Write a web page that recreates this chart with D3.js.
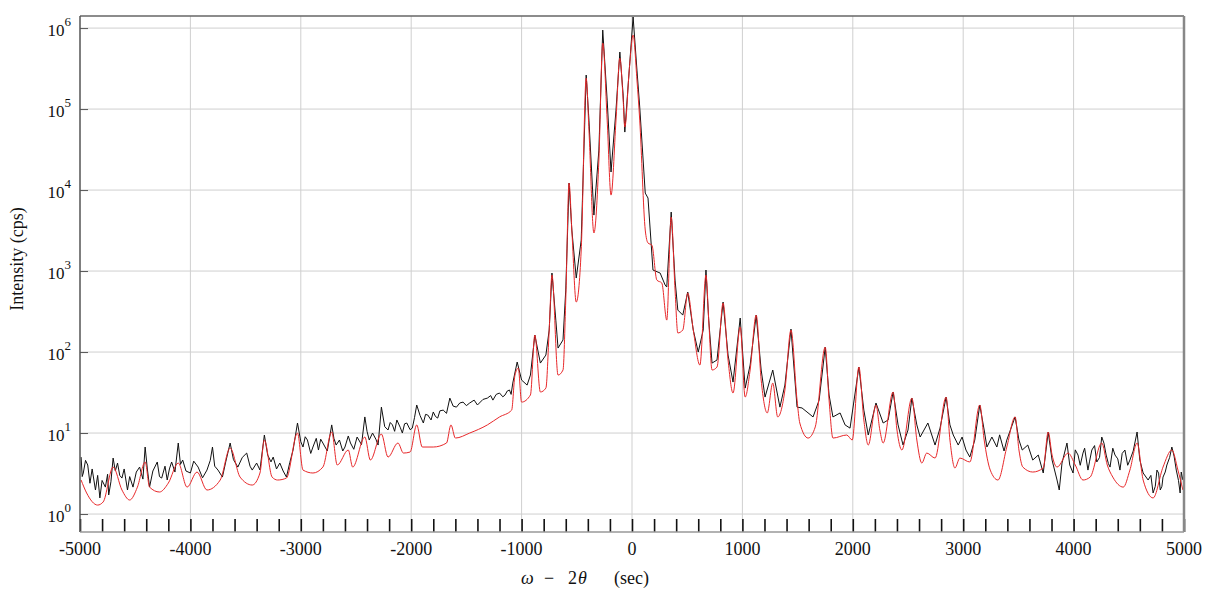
<!DOCTYPE html>
<html>
<head>
<meta charset="utf-8">
<script src="https://cdn.jsdelivr.net/npm/d3@7"></script>
<style>
  body { margin: 0; background: #fff; }
  svg text { font-family: "Liberation Serif", "Times New Roman", serif; fill: #111; }
</style>
</head>
<body>
<div class="main"></div>
<script>
//data (omega-2theta in sec, intensity in cps)
//simulated curve (red)
const simAngle = [
  -4990,-4940,-4840,-4790,-4700,-4620,-4550,-4480,-4410,-4370,
  -4280,-4200,-4110,-4030,-3940,-3850,-3730,-3640,-3550,-3440,
  -3370,-3330,-3260,-3210,-3130,-3030,-2980,-2890,-2800,-2720,
  -2670,-2570,-2530,-2420,-2370,-2270,-2210,-2120,-2070,-2010,
  -1950,-1900,-1800,-1680,-1640,-1600,-1470,-1310,-1200,-1090,
  -1060,-1030,-1000,-920,-880,-830,-780,-750,-725,-670,
  -625,-600,-570,-545,-505,-460,-415,-390,-345,-300,
  -265,-225,-190,-145,-110,-80,-65,-25,10,45,
  70,120,145,180,225,270,315,355,390,415,
  460,505,555,615,670,695,725,770,825,870,
  915,980,1025,1070,1125,1170,1225,1275,1320,1385,
  1440,1495,1520,1595,1660,1750,1785,1820,1945,1995,
  2055,2100,2140,2210,2245,2275,2365,2400,2445,2535,
  2580,2625,2670,2745,2845,2880,2925,2970,3060,3150,
  3190,3245,3315,3395,3470,3505,3540,3630,3725,3770,
  3805,3850,3950,4015,4085,4150,4255,4305,4355,4450,
  4510,4575,4630,4720,4810,4890,4945,4990
];
const simCps = [
  2.63,1.82,1.29,1.41,3.80,1.98,1.49,2.15,4.39,2.15,
  1.87,2.41,4.26,2.15,3.30,1.98,2.63,6.53,2.86,2.28,
  3.21,8.20,2.86,2.63,2.78,10.0,3.49,3.21,3.80,10.3,
  4.03,6.17,3.80,8.93,4.64,9.72,5.05,7.53,5.66,5.83,
  12.6,6.72,6.72,7.53,12.6,8.67,10.0,12.6,15.8,19.2,
  52.0,63.4,24.1,29.5,162,32.1,35.9,187,893,52.0,
  60.0,439,12200,3210,414,1820,241000,55000,2950,23500,
  653000,73100,8670,73100,426000,129000,60000,303000,820000,228000,
  73100,3210,2220,2090,774,711,248,4640,583,172,
  187,535,187,69.1,893,248,60.0,65.3,403,79.7,
  31.2,204,27.8,60.0,286,45.1,17.7,41.4,15.8,34.0,
  187,25.5,13.3,8.67,11.9,115,25.5,8.67,9.45,8.20,
  65.3,14.5,7.11,22.2,10.9,7.53,32.1,10.9,6.17,27.0,
  8.20,4.26,5.66,4.91,27.8,8.20,3.70,4.91,4.39,22.2,
  8.20,3.49,2.63,6.72,15.8,6.17,3.80,3.30,3.70,10.3,
  5.35,3.80,5.66,4.03,2.63,2.86,7.53,4.03,2.86,2.15,
  3.49,7.53,2.63,1.58,3.80,6.17,3.49,1.98
];

//measured curve (black)
const measAngle = [
  -4990,-4980,-4970,-4950,-4930,-4910,-4890,-4860,-4840,-4820,
  -4800,-4770,-4750,-4740,-4720,-4700,-4680,-4660,-4640,-4620,
  -4600,-4570,-4550,-4520,-4490,-4460,-4430,-4410,-4390,-4370,
  -4340,-4300,-4280,-4260,-4230,-4210,-4190,-4170,-4140,-4110,
  -4090,-4070,-4040,-4000,-3970,-3930,-3890,-3850,-3820,-3800,
  -3780,-3750,-3710,-3680,-3640,-3610,-3570,-3530,-3490,-3460,
  -3440,-3400,-3370,-3330,-3300,-3270,-3250,-3220,-3190,-3160,
  -3130,-3100,-3070,-3030,-3000,-2980,-2960,-2940,-2910,-2890,
  -2860,-2840,-2820,-2800,-2760,-2720,-2700,-2680,-2650,-2620,
  -2600,-2570,-2550,-2520,-2490,-2450,-2420,-2400,-2380,-2350,
  -2320,-2300,-2270,-2240,-2210,-2190,-2170,-2150,-2130,-2100,
  -2080,-2060,-2040,-2010,-1990,-1970,-1950,-1920,-1890,-1870,
  -1850,-1820,-1800,-1780,-1760,-1740,-1710,-1680,-1650,-1620,
  -1590,-1560,-1530,-1500,-1470,-1430,-1400,-1350,-1310,-1280,
  -1260,-1230,-1200,-1170,-1150,-1130,-1110,-1095,-1080,-1040,
  -1000,-950,-920,-880,-830,-780,-750,-725,-690,-670,
  -625,-600,-570,-545,-505,-460,-415,-390,-345,-300,
  -265,-225,-190,-145,-110,-80,-65,-25,10,45,
  70,120,145,190,255,300,315,355,390,415,
  460,505,555,600,645,670,695,725,770,825,
  870,915,980,1025,1070,1125,1170,1205,1275,1340,
  1385,1440,1495,1540,1585,1640,1695,1750,1785,1820,
  1885,1930,1975,2055,2100,2140,2210,2275,2320,2365,
  2410,2455,2500,2535,2580,2610,2680,2745,2790,2845,
  2880,2910,2955,2990,3025,3060,3105,3150,3190,3215,
  3260,3305,3330,3350,3370,3395,3470,3505,3535,3585,
  3630,3680,3725,3770,3805,3850,3870,3895,3940,3965,
  3995,4015,4040,4060,4085,4100,4130,4145,4165,4190,
  4210,4235,4255,4275,4295,4315,4330,4355,4375,4400,
  4420,4440,4465,4490,4510,4540,4575,4600,4630,4675,
  4700,4720,4740,4755,4770,4785,4800,4810,4830,4845,
  4870,4890,4910,4930,4950,4965,4975,4990
];
const measCps = [
  5.05,2.9,3.21,4.6,4.03,2.4,3.6,1.98,3.0,1.58,
  2.6,2.15,3.1,1.72,2.5,4.91,3.4,4.26,3.0,2.78,
  3.6,1.98,2.9,2.15,3.3,3.80,2.7,6.72,3.6,2.15,
  3.4,4.39,2.9,2.78,3.9,2.63,3.6,4.39,3.3,7.53,
  4.1,4.64,3.4,3.21,4.5,3.80,2.8,3.49,4.6,6.72,
  3.9,3.49,2.86,4.4,7.53,4.7,3.80,5.0,5.66,3.9,
  3.49,4.26,3.5,9.45,5.35,4.4,5.05,3.6,4.26,3.4,
  2.86,4.3,6.17,13.3,7.8,6.72,9.0,8.20,5.6,6.72,
  8.6,6.17,8.4,7.53,6.0,12.6,8.6,7.11,8.20,6.0,
  6.72,9.2,7.53,6.3,8.93,7.2,15.8,10.5,8.20,10.0,
  8.4,7.11,20.9,12.0,10.9,13.5,12.6,10.5,14.5,11.8,
  10.0,13.0,13.3,11.0,11.5,15.5,22.2,16.5,13.3,17.0,
  16.7,14.5,18.2,16.0,15.3,18.8,19.2,17.5,27.0,21.5,
  20.9,23.5,24.1,21.8,23.5,25.5,22.2,26.0,27.0,29.0,
  25.5,30.0,31.2,28.0,29.5,33.0,34.0,30.0,41.4,75.3,
  45.1,39.1,52.0,162,73.1,91.8,187,945,248,112,
  141,583,12200,3210,820,2410,263000,73100,4910,31200,
  945000,129000,16700,97200,506000,149000,52000,303000,1370000,303000,
  106000,9180,7970,1030,945,672,635,5350,774,330,
  286,551,187,100,187,1030,248,73.1,79.7,414,
  91.8,42.6,263,35.9,69.1,286,60.0,27.8,60.0,20.9,
  39.1,192,20.9,20.4,18.2,15.8,25.5,115,29.5,15.8,
  17.7,12.6,11.5,65.3,19.2,9.45,23.5,13.3,14.5,32.1,
  12.6,7.11,10.9,27.0,12.6,8.93,13.3,7.11,11.5,27.8,
  12.6,9.45,7.11,8.93,6.17,5.05,8.20,22.2,10.9,6.72,
  8.93,6.72,9.5,7.53,6.0,8.20,15.8,8.20,6.17,7.11,
  4.64,5.35,3.21,10.3,4.64,2.63,1.98,4.26,7.53,4.03,
  3.21,6.2,5.35,4.0,5.66,6.5,3.49,4.5,6.17,7.0,
  4.39,5.0,8.93,7.5,5.35,4.2,3.80,6.5,5.35,4.8,
  3.49,5.6,6.17,4.0,4.64,6.0,10.3,4.64,3.21,2.63,
  3.0,1.82,2.2,3.49,3.2,1.98,2.2,2.86,3.3,4.03,
  5.0,6.72,5.2,3.49,2.6,1.82,3.3,2.63
];

const xTickLabels = [-5000,-4000,-3000,-2000,-1000,0,1000,2000,3000,4000,5000];
const yDecades = [0,1,2,3,4,5,6];

//scaling
const w = 1217, h = 599;
const plotL = 80, plotR = 1184, plotT = 16, plotB = 532;

const xScale = d3.scaleLinear().domain([-5000, 5000]).range([plotL, plotR]);
const yScale = d3.scaleLog().domain([0.6, 1.41e6]).range([plotB, plotT]);

const svg = d3.select(".main")
  .append("svg")
  .attr("width", w)
  .attr("height", h);

svg.append("clipPath").attr("id", "plot")
  .append("rect")
  .attr("x", plotL).attr("y", plotT)
  .attr("width", plotR-plotL).attr("height", plotB-plotT);

//grid
svg.append("g")
  .selectAll("line")
  .data(xTickLabels.slice(1, -1))
  .enter().append("line")
  .attr("x1", d => xScale(d)).attr("x2", d => xScale(d))
  .attr("y1", plotT).attr("y2", plotB)
  .attr("stroke", "#cfcfcf").attr("stroke-width", 1);

svg.append("g")
  .selectAll("line")
  .data(yDecades)
  .enter().append("line")
  .attr("x1", plotL).attr("x2", plotR)
  .attr("y1", d => yScale(Math.pow(10, d))).attr("y2", d => yScale(Math.pow(10, d)))
  .attr("stroke", "#cfcfcf").attr("stroke-width", 1);

//bottom minor ticks every 200 sec, pointing up
const xAxis = d3.axisTop(xScale)
  .tickValues(d3.range(-5000, 5001, 200))
  .tickSize(13)
  .tickFormat("");
svg.append("g")
  .attr("transform", "translate(0," + plotB + ")")
  .call(xAxis)
  .call(g => g.select(".domain").remove())
  .call(g => g.selectAll(".tick line").attr("stroke", "#111").attr("stroke-width", 1.6));

//left ticks at decades
const yAxis = d3.axisRight(yScale)
  .tickValues(yDecades.map(d => Math.pow(10, d)))
  .tickSize(8)
  .tickFormat("");
svg.append("g")
  .attr("transform", "translate(" + plotL + ",0)")
  .call(yAxis)
  .call(g => g.select(".domain").remove())
  .call(g => g.selectAll(".tick line").attr("stroke", "#555"));

//curves
const measLine = d3.line()
  .x((d, i) => xScale(measAngle[i]))
  .y(d => yScale(d));
const simLine = d3.line()
  .x((d, i) => xScale(simAngle[i]))
  .y(d => yScale(d))
  .curve(d3.curveMonotoneX);

svg.append("path")
  .datum(measCps)
  .attr("clip-path", "url(#plot)")
  .attr("d", measLine)
  .attr("fill", "none")
  .attr("stroke", "#111")
  .attr("stroke-width", 1);

svg.append("path")
  .datum(simCps)
  .attr("clip-path", "url(#plot)")
  .attr("d", simLine)
  .attr("fill", "none")
  .attr("stroke", "#e8282a")
  .attr("stroke-width", 1);

//frame
svg.append("line").attr("x1", plotL).attr("x2", plotR).attr("y1", plotT).attr("y2", plotT)
  .attr("stroke", "#666").attr("stroke-width", 1.5);
svg.append("line").attr("x1", plotL).attr("x2", plotL).attr("y1", plotT).attr("y2", plotB)
  .attr("stroke", "#555").attr("stroke-width", 1.5);
svg.append("line").attr("x1", plotR).attr("x2", plotR).attr("y1", plotT).attr("y2", plotB)
  .attr("stroke", "#888").attr("stroke-width", 2.5);
svg.append("line").attr("x1", plotL).attr("x2", plotR).attr("y1", plotB).attr("y2", plotB)
  .attr("stroke", "#999").attr("stroke-width", 1.5);

//tick labels
svg.append("g")
  .selectAll("text")
  .data(xTickLabels)
  .enter().append("text")
  .attr("x", d => xScale(d))
  .attr("y", 555)
  .attr("text-anchor", "middle")
  .style("font-size", "18px")
  .text(d => d);

const yLab = svg.append("g")
  .selectAll("text")
  .data(yDecades)
  .enter().append("text")
  .attr("x", 71)
  .attr("y", d => yScale(Math.pow(10, d)) + 8)
  .attr("text-anchor", "end")
  .style("font-size", "17px");
yLab.append("tspan").text("10");
yLab.append("tspan")
  .attr("dy", -10)
  .style("font-size", "13px")
  .text(d => d);

//axis titles
svg.append("text")
  .attr("transform", "translate(23," + 259 + ") rotate(-90)")
  .attr("text-anchor", "middle")
  .style("font-size", "18px")
  .text("Intensity (cps)");

//x title, math spacing like an equation editor
const xTitle = svg.append("g").style("font-size", "18px");
xTitle.append("text").attr("x", 521).attr("y", 584).style("font-style", "italic").text("ω");
xTitle.append("text").attr("x", 544).attr("y", 584).text("−");
xTitle.append("text").attr("x", 568).attr("y", 584).text("2");
xTitle.append("text").attr("x", 578).attr("y", 584).style("font-style", "italic").text("θ");
xTitle.append("text").attr("x", 614).attr("y", 584).text("(sec)");
</script>
</body>
</html>
